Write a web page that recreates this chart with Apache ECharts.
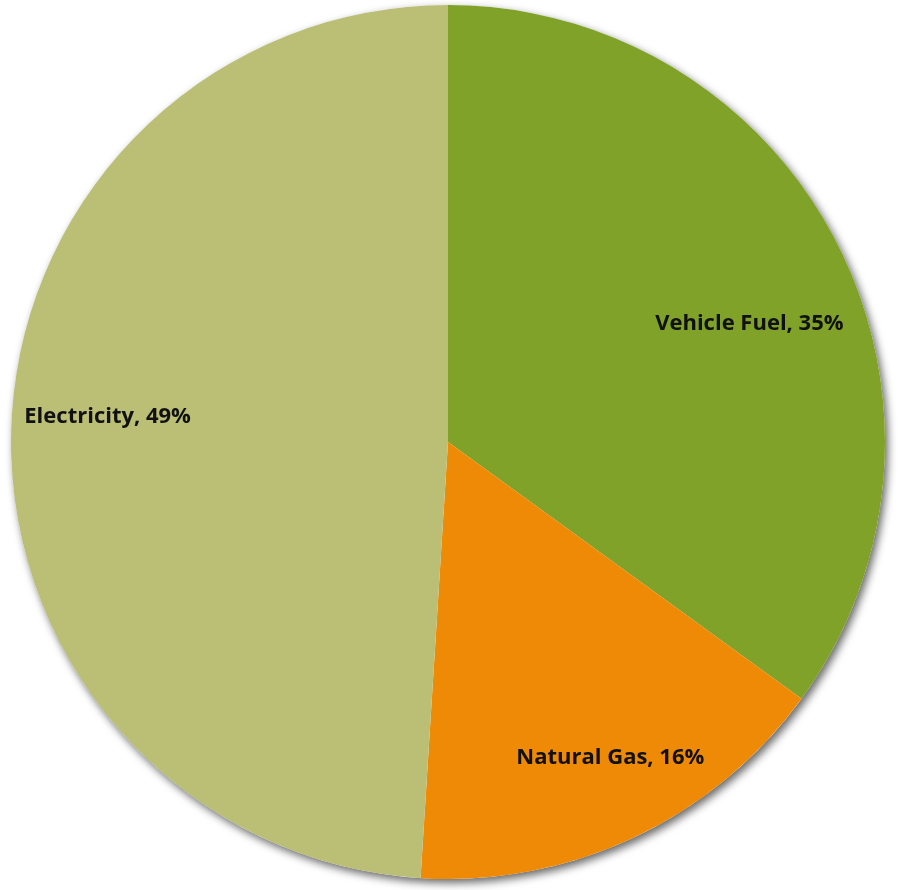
<!DOCTYPE html>
<html>
<head>
<meta charset="utf-8">
<script src="https://cdn.jsdelivr.net/npm/echarts@6/dist/echarts.min.js"></script>
<style>
  html, body { margin: 0; padding: 0; background: #fff; }
  #chart { width: 899px; height: 890px; }
</style>
</head>
<body>
<div id="chart"></div>
<script>
// data
const categories = ['Vehicle Fuel', 'Natural Gas', 'Electricity']
const values = [35, 16, 49]
const colors = ['#80A229', '#EE8A05', '#BBBE75']
// label nudges from the default 'inside' spot
const labelOffsets = [[104, -18], [68, 115], [-119, -18]]

const chart = echarts.init(document.getElementById('chart'))

const center = [448, 442]
const radius = 437

chart.setOption({
  animation: false,
  series: [
    {
      // shadow disc under the whole pie
      type: 'pie',
      silent: true,
      z: 1,
      center: center,
      radius: [0, radius],
      label: { show: false },
      labelLine: { show: false },
      itemStyle: {
        color: '#fff',
        shadowBlur: 8,
        shadowOffsetX: 3,
        shadowOffsetY: 4,
        shadowColor: 'rgba(0,0,0,0.6)'
      },
      data: [{ value: 1, name: 'bg' }]
    },
    {
      type: 'pie',
      z: 2,
      center: center,
      radius: [0, radius],
      startAngle: 90,
      clockwise: true,
      itemStyle: { borderWidth: 0 },
      label: {
        show: true,
        position: 'inside',
        fontFamily: 'Open Sans',
        fontWeight: 'bold',
        fontSize: 22,
        color: '#111',
        formatter: p => p.name + ', ' + p.value + '%'
      },
      labelLine: { show: false },
      data: categories.map((c, i) => ({
        name: c,
        value: values[i],
        itemStyle: { color: colors[i] },
        label: { offset: labelOffsets[i] }
      }))
    }
  ]
})
</script>
</body>
</html>
